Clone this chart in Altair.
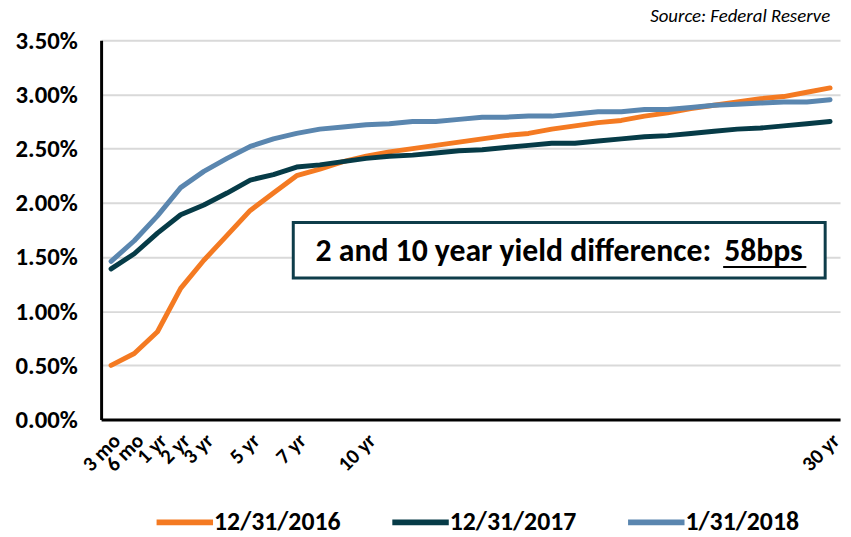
import altair as alt
import pandas as pd

maturities = ["3 mo", "6 mo", "1 yr", "2 yr", "3 yr", "4 yr", "5 yr", "6 yr", "7 yr", "8 yr", "9 yr",
              "10 yr", "11 yr", "12 yr", "13 yr", "14 yr", "15 yr", "16 yr", "17 yr", "18 yr", "19 yr",
              "20 yr", "21 yr", "22 yr", "23 yr", "24 yr", "25 yr", "26 yr", "27 yr", "28 yr", "29 yr", "30 yr"]
shown_labels = ["3 mo", "6 mo", "1 yr", "2 yr", "3 yr", "5 yr", "7 yr", "10 yr", "30 yr"]

series_names = ["12/31/2016", "12/31/2017", "1/31/2018"]
series_colors = ["#F47A22", "#063B47", "#5A86AF"]

y_2016 = [0.50, 0.61, 0.81, 1.21, 1.47, 1.70, 1.93, 2.09, 2.25, 2.31, 2.38,
          2.43, 2.47, 2.50, 2.53, 2.56, 2.59, 2.62, 2.64, 2.68, 2.71,
          2.74, 2.76, 2.80, 2.83, 2.87, 2.90, 2.93, 2.96, 2.98, 3.02, 3.06]
y_2017 = [1.39, 1.53, 1.72, 1.89, 1.98, 2.09, 2.21, 2.26, 2.33, 2.35, 2.38,
          2.41, 2.43, 2.44, 2.46, 2.48, 2.49, 2.51, 2.53, 2.55, 2.55,
          2.57, 2.59, 2.61, 2.62, 2.64, 2.66, 2.68, 2.69, 2.71, 2.73, 2.75]
y_2018 = [1.46, 1.65, 1.88, 2.14, 2.29, 2.41, 2.52, 2.59, 2.64, 2.68, 2.70,
          2.72, 2.73, 2.75, 2.75, 2.77, 2.79, 2.79, 2.80, 2.80, 2.82,
          2.84, 2.84, 2.86, 2.86, 2.88, 2.90, 2.91, 2.92, 2.93, 2.93, 2.95]

y_ticks = [0, 0.5, 1.0, 1.5, 2.0, 2.5, 3.0, 3.5]

annotation_text = "2 and 10 year yield difference:"
annotation_value = "58bps"
source_text = "Source: Federal Reserve"

FONT = "Carlito, Calibri, Lato, sans-serif"

rows = []
for name, vals in zip(series_names, [y_2016, y_2017, y_2018]):
    for m, v in zip(maturities, vals):
        rows.append({"maturity": m, "yield": v, "series": name})
df = pd.DataFrame(rows)

lines = alt.Chart(df).mark_line(strokeWidth=5, strokeJoin="round", strokeCap="round").encode(
    x=alt.X("maturity:O", sort=maturities, title=None,
            scale=alt.Scale(type="point", padding=0.43),
            axis=alt.Axis(values=shown_labels, labelAngle=-45, labelAlign="right",
                          labelBaseline="middle", labelPadding=18, labelOffset=6,
                          labelFontSize=21, labelFontWeight="bold", labelColor="black",
                          labelFont=FONT, ticks=False, domainColor="black",
                          domainWidth=3, grid=False)),
    y=alt.Y("yield:Q", title=None,
            scale=alt.Scale(domain=[0, 3.5], nice=False),
            axis=alt.Axis(values=y_ticks, labelExpr="format(datum.value, '.2f') + '%'",
                          labelFontSize=25, labelFontWeight="bold", labelColor="black",
                          labelFont=FONT, labelPadding=24, ticks=False,
                          domainColor="black", domainWidth=3,
                          gridColor="#D9D9D9", gridWidth=2)),
    color=alt.Color("series:N", sort=series_names,
                    scale=alt.Scale(domain=series_names, range=series_colors),
                    legend=alt.Legend(title=None, orient="none", direction="horizontal",
                                      columns=3, legendX=67, legendY=469,
                                      symbolType="M-2,0H2", symbolSize=812,
                                      symbolStrokeWidth=6, columnPadding=40,
                                      labelFontSize=26, labelFontWeight="bold",
                                      labelColor="black", labelFont=FONT, labelOffset=12)),
)

one = pd.DataFrame({"k": [0]})

box = alt.Chart(one).mark_rect(fill="white", stroke="#0E3D4A", strokeWidth=3).encode(
    x=alt.value(194), x2=alt.value(731), y=alt.value(184), y2=alt.value(240)
)
text1 = alt.Chart(one).mark_text(text=annotation_text, fontSize=32, fontWeight="bold",
                                 font=FONT, color="black", align="right",
                                 baseline="middle").encode(
    x=alt.value(616), y=alt.value(213)
)
text2 = alt.Chart(one).mark_text(text=annotation_value, fontSize=32, fontWeight="bold",
                                 font=FONT, color="black", align="left",
                                 baseline="middle").encode(
    x=alt.value(629), y=alt.value(213)
)
underline = alt.Chart(one).mark_rule(color="black", strokeWidth=2).encode(
    x=alt.value(628), x2=alt.value(712), y=alt.value(229)
)
source = alt.Chart(one).mark_text(text=source_text, fontSize=19, fontStyle="italic",
                                  font=FONT, color="black", align="right",
                                  baseline="middle").encode(
    x=alt.value(736), y=alt.value(-24)
)

chart = alt.layer(lines, box, text1, text2, underline, source).properties(
    width=746, height=383,
    autosize=alt.AutoSizeParams(type="none"),
    padding={"left": 94, "top": 30, "right": 3, "bottom": 115},
    background="white",
).configure_view(stroke=None)

chart.save("out.html", embed_options={"renderer": "svg", "actions": False})
